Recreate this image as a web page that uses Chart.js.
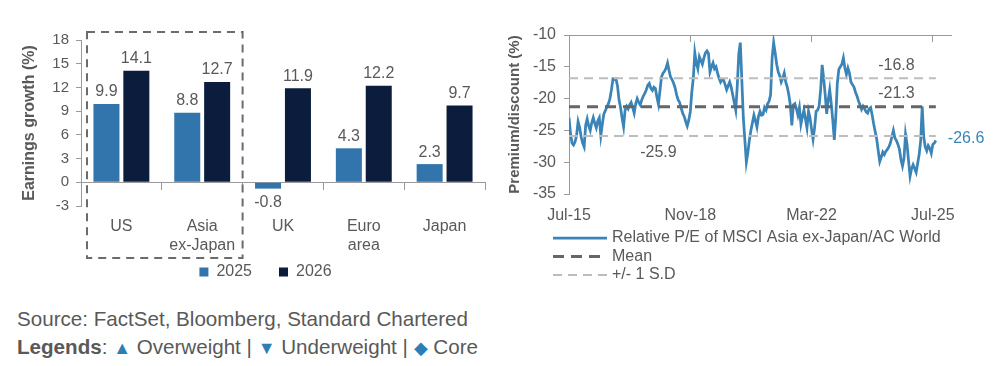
<!DOCTYPE html>
<html>
<head>
<meta charset="utf-8">
<script src="https://cdn.jsdelivr.net/npm/chart.js@4.4.1/dist/chart.umd.min.js"></script>
<style>
  body { margin: 0; background: #fff; font-family: "Liberation Sans", Arial, sans-serif; color: #595959; }
  .wrap { position: relative; width: 998px; height: 366px; }
  #barBox { position: absolute; left: 0; top: 0; width: 500px; height: 290px; }
  #lineBox { position: absolute; left: 500px; top: 0; width: 498px; height: 290px; }
  .note { position: absolute; left: 17px; font-size: 20.6px; line-height: 24px; white-space: nowrap; }
  .sym { color: #2e7db5; font-size: 18px; }
</style>
</head>
<body>
<div class="wrap">
  <div id="barBox"><canvas id="earningsChart"></canvas></div>
  <div id="lineBox"><canvas id="peChart"></canvas></div>
  <div class="note" style="top:307px">Source: FactSet, Bloomberg, Standard Chartered</div>
  <div class="note" style="top:335px"><b>Legends</b>: <span class="sym">▲</span> Overweight | <span class="sym">▼</span> Underweight | <span class="sym">◆</span> Core</div>
</div>
<script>
// Earnings growth by region
const regions = [['US'], ['Asia', 'ex-Japan'], ['UK'], ['Euro', 'area'], ['Japan']];
const growth2025 = [9.9, 8.8, -0.8, 4.3, 2.3];
const growth2026 = [14.1, 12.7, 11.9, 12.2, 9.7];
const growthTicks = [-3, 0, 3, 6, 9, 12, 15, 18];
const focusCount = 2; // US + Asia ex-Japan are boxed

// Relative P/E, half-monthly readings starting Jul-15
const monthsPerPoint = 0.5;
const relPE = [
  -23.0, -25.5, -27.0, -27.3, -26.8, -25.8, -23.6, -24.5, -26.0, -27.0,
  -27.6, -24.2, -23.2, -24.3, -25.0, -23.8, -23.0, -23.9, -24.6, -23.5,
  -23.0, -25.8, -24.0, -22.4, -21.9, -21.3, -20.8, -20.0, -18.6, -16.9,
  -17.0, -16.9, -18.0, -20.2, -21.4, -23.0, -24.4, -21.8, -21.2, -21.6,
  -21.0, -20.6, -21.4, -22.3, -20.8, -20.0, -20.6, -21.0, -20.2, -19.6,
  -19.2, -18.6, -17.9, -17.6, -18.4, -18.7, -18.2, -18.4, -19.8, -20.9,
  -18.8, -16.6, -16.0, -15.7, -15.2, -14.4, -15.6, -16.6, -17.0, -17.6,
  -18.3, -19.4, -20.2, -20.6, -21.5, -22.3, -22.8, -23.6, -24.3, -23.4,
  -22.1, -19.0, -16.8, -12.8, -14.4, -15.3, -13.4, -14.0, -14.6, -13.6,
  -12.8, -12.5, -12.9, -15.8, -15.0, -14.4, -15.3, -15.0, -16.0, -16.8,
  -17.4, -17.0, -17.1, -17.8, -18.6, -18.0, -17.4, -18.2, -19.4, -20.6,
  -21.8, -18.0, -13.0, -11.2, -17.0, -23.0, -26.5, -30.0, -28.5, -26.5,
  -25.0, -23.8, -22.6, -23.5, -24.5, -22.8, -22.0, -22.6, -22.5, -21.4,
  -21.8, -20.8, -20.4, -19.4, -13.6, -11.2, -12.8, -14.6, -15.8, -16.4,
  -17.4, -16.8, -16.0, -17.4, -18.2, -19.4, -21.0, -24.2, -21.0, -20.8,
  -21.6, -22.6, -21.4, -24.0, -22.8, -21.8, -23.2, -24.6, -22.0, -23.0,
  -24.8, -26.4, -24.6, -22.0, -21.8, -21.2, -18.6, -14.7, -16.8, -19.4,
  -22.4, -20.2, -18.6, -20.8, -23.4, -26.5, -22.8, -17.6, -15.4, -15.0,
  -14.6, -13.6, -15.2, -16.2, -15.2, -16.0, -17.4, -17.8, -18.2, -19.0,
  -19.6, -20.4, -21.0, -21.7, -21.2, -21.6, -22.1, -22.3, -21.6, -21.4,
  -22.6, -24.0, -25.2, -26.4, -28.2, -29.9, -29.2, -28.4, -28.8, -28.3,
  -28.0, -27.6, -27.0, -26.0, -25.0, -26.2, -26.6, -27.2, -28.0, -29.6,
  -30.6, -29.4, -25.6, -27.2, -29.8, -32.2, -31.0, -30.4, -31.0, -31.6,
  -30.2, -28.8, -26.6, -21.2, -26.0, -27.6, -28.2, -27.4, -27.8, -28.6,
  -27.2, -27.0, -26.6
];
const peMean = -21.3;
const peUpper = -16.8;
const peLower = -25.9;
const dateTicks = [0, 40, 80, 120];
const dateLabels = ['Jul-15', 'Nov-18', 'Mar-22', 'Jul-25'];
const peTicks = [-35, -30, -25, -20, -15, -10];

const fontStack = '"Liberation Sans", Arial, sans-serif';
const textGrey = '#595959';
const axisGrey = '#9a9a9a';
const lineBlue = '#3a84b7';

Chart.defaults.font.family = fontStack;
Chart.defaults.color = textGrey;

// value labels above / below bars
const barValueLabels = {
  id: 'barValueLabels',
  afterDatasetsDraw(chart) {
    const ctx = chart.ctx;
    ctx.save();
    ctx.font = '16px ' + fontStack;
    ctx.fillStyle = textGrey;
    ctx.textAlign = 'center';
    ctx.textBaseline = 'middle';
    chart.data.datasets.forEach((ds, di) => {
      chart.getDatasetMeta(di).data.forEach((bar, i) => {
        const v = ds.data[i];
        ctx.fillText(v.toFixed(1), bar.x, v < 0 ? bar.y + 14 : bar.y - 12);
      });
    });
    ctx.restore();
  }
};

// dashed box around the first categories
const focusBox = {
  id: 'focusBox',
  // let the two-line category labels run past the short axis box
  afterLayout(chart) {
    chart.scales.x.bottom = chart.height;
  },
  afterDraw(chart) {
    const { ctx, chartArea, scales } = chart;
    const x = scales.x;
    const left = chartArea.left + 6;
    const right = (x.getPixelForValue(focusCount - 1) + x.getPixelForValue(focusCount)) / 2;
    const top = chartArea.top - 8;
    const bottom = chartArea.bottom + 52;
    ctx.save();
    ctx.strokeStyle = '#6b6b6b';
    ctx.lineWidth = 2;
    ctx.setLineDash([8, 6]);
    ctx.strokeRect(left, top, right - left, bottom - top);
    ctx.restore();
  }
};

const barChart = new Chart(document.getElementById('earningsChart'), {
  type: 'bar',
  data: {
    labels: regions,
    datasets: [
      { label: '2025', data: growth2025, backgroundColor: '#3274ac', categoryPercentage: 0.74, barPercentage: 0.87 },
      { label: '2026', data: growth2026, backgroundColor: '#0b1c3c', categoryPercentage: 0.74, barPercentage: 0.87 }
    ]
  },
  options: {
    responsive: true,
    maintainAspectRatio: false,
    animation: false,
    layout: { padding: { left: 46, right: 15, top: 40, bottom: 0 } },
    scales: {
      x: {
        position: 'bottom',
        grid: { display: false, drawTicks: false },
        border: { display: false },
        ticks: { font: { size: 16 }, padding: 11, maxRotation: 0, autoSkip: false },
        afterFit: s => { s.height = 31; }
      },
      xZero: {
        type: 'category',
        axis: 'x',
        labels: regions,
        position: { y: 0 },
        offset: true,
        grid: { drawOnChartArea: false, offset: true, color: axisGrey, tickLength: 7 },
        border: { color: axisGrey },
        ticks: { display: false }
      },
      y: {
        min: -3,
        max: 18,
        afterBuildTicks: s => { s.ticks = growthTicks.map(v => ({ value: v })); },
        ticks: { font: { size: 15 }, padding: 7 },
        grid: { drawOnChartArea: false, color: axisGrey, tickLength: 5 },
        border: { color: axisGrey },
        title: {
          display: true,
          text: 'Earnings growth (%)',
          font: { size: 16, weight: 'bold' },
          padding: { top: -25.6, bottom: 0 }
        },
        afterFit: s => { s.width = 35; }
      }
    },
    plugins: {
      legend: {
        position: 'bottom',
        labels: { boxWidth: 9, boxHeight: 9, padding: 27, font: { size: 16 } }
      },
      tooltip: { enabled: false }
    }
  },
  plugins: [barValueLabels, focusBox]
});

// value tags on the P/E chart
const peValueLabels = {
  id: 'peValueLabels',
  afterDraw(chart) {
    const { ctx, scales: { x, y } } = chart;
    const last = relPE[relPE.length - 1];
    const lastX = (relPE.length - 1) * monthsPerPoint;
    ctx.save();
    ctx.font = '16px ' + fontStack;
    ctx.textBaseline = 'middle';
    ctx.textAlign = 'center';
    ctx.fillStyle = textGrey;
    ctx.fillText(peUpper.toFixed(1), x.getPixelForValue(108), y.getPixelForValue(peUpper) - 13);
    ctx.fillText(peMean.toFixed(1), x.getPixelForValue(108), y.getPixelForValue(peMean) - 13);
    ctx.fillText(peLower.toFixed(1), x.getPixelForValue(29.5), y.getPixelForValue(peLower) + 16);
    ctx.textAlign = 'left';
    ctx.fillStyle = lineBlue;
    ctx.fillText(last.toFixed(1), x.getPixelForValue(lastX) + 12, y.getPixelForValue(last) - 2);
    ctx.restore();
  }
};

// stacked legend under the P/E chart
const peLegend = {
  id: 'peLegend',
  afterDraw(chart) {
    const { ctx, chartArea } = chart;
    const x0 = 53;
    let rowY = chartArea.bottom + 44;
    ctx.save();
    ctx.font = '16px ' + fontStack;
    ctx.textBaseline = 'middle';
    ctx.textAlign = 'left';
    chart.data.datasets.forEach(ds => {
      if (ds.hideInLegend) return;
      ctx.strokeStyle = ds.borderColor;
      ctx.lineWidth = ds.borderWidth;
      ctx.setLineDash(ds.borderDash || []);
      ctx.beginPath();
      ctx.moveTo(x0, rowY);
      ctx.lineTo(x0 + 54, rowY);
      ctx.stroke();
      ctx.fillStyle = textGrey;
      ctx.fillText(ds.label, x0 + 59, rowY);
      rowY += 18.5;
    });
    ctx.restore();
  }
};

const lastMonth = (relPE.length - 1) * monthsPerPoint;
const flatLine = v => [{ x: 0, y: v }, { x: lastMonth, y: v }];

const peChart = new Chart(document.getElementById('peChart'), {
  type: 'line',
  data: {
    datasets: [
      {
        label: 'Relative P/E of MSCI Asia ex-Japan/AC World',
        data: relPE.map((v, i) => ({ x: i * monthsPerPoint, y: v })),
        borderColor: lineBlue,
        borderWidth: 2.75,
        pointRadius: 0,
        tension: 0,
        order: 3
      },
      {
        label: 'Mean',
        data: flatLine(peMean),
        borderColor: '#666666',
        borderWidth: 3,
        borderDash: [11, 7],
        pointRadius: 0,
        order: 1
      },
      {
        label: '+/- 1 S.D',
        data: flatLine(peUpper),
        borderColor: '#bdbdbd',
        borderWidth: 2,
        borderDash: [9, 6],
        pointRadius: 0,
        order: 2
      },
      {
        label: '+/- 1 S.D',
        data: flatLine(peLower),
        borderColor: '#bdbdbd',
        borderWidth: 2,
        borderDash: [9, 6],
        pointRadius: 0,
        order: 2,
        hideInLegend: true
      }
    ]
  },
  options: {
    responsive: true,
    maintainAspectRatio: false,
    animation: false,
    layout: { padding: { left: 0, right: 47, top: 35, bottom: 0 } },
    scales: {
      x: {
        type: 'linear',
        min: 0,
        max: 126,
        afterBuildTicks: s => { s.ticks = dateTicks.map(v => ({ value: v })); },
        ticks: { callback: (v, i) => dateLabels[i], font: { size: 16 }, padding: 12, maxRotation: 0, autoSkip: false },
        grid: { display: false, drawTicks: false },
        border: { display: false },
        afterFit: s => { s.height = 96; }
      },
      xTop: {
        type: 'linear',
        axis: 'x',
        min: 0,
        max: 126,
        position: { y: -10 },
        afterBuildTicks: s => { s.ticks = dateTicks.map(v => ({ value: v })); },
        ticks: { display: false },
        grid: { drawOnChartArea: false, color: axisGrey, tickLength: 6 },
        border: { color: axisGrey }
      },
      y: {
        min: -35,
        max: -10,
        afterBuildTicks: s => { s.ticks = peTicks.map(v => ({ value: v })); },
        ticks: { font: { size: 16 }, padding: 8 },
        grid: { drawOnChartArea: false, color: axisGrey, tickLength: 5 },
        border: { color: axisGrey },
        title: {
          display: true,
          text: 'Premium/discount (%)',
          font: { size: 15, weight: 'bold' },
          padding: { top: 6, bottom: 0 }
        },
        afterFit: s => { s.width = 69; }
      }
    },
    plugins: {
      legend: { display: false },
      tooltip: { enabled: false }
    }
  },
  plugins: [peValueLabels, peLegend]
});
</script>
</body>
</html>
